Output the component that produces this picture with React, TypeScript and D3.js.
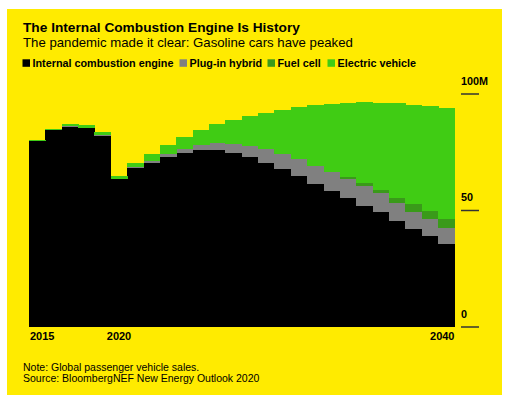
import React from "react";
import * as d3 from "d3";

// Global passenger vehicle sales, millions
const years = d3.range(2015, 2041);
const ice = [79.8, 84.5, 86.0, 85.3, 82.0, 63.4, 68.1, 70.5, 73.1, 74.6, 75.9, 76.0, 74.6, 72.9, 70.4, 67.7, 64.7, 61.2, 58.4, 55.4, 52.1, 49.5, 45.6, 41.9, 39.1, 35.6];
const phev = [0, 0, 0.2, 0.3, 0.4, 0.3, 0.5, 0.9, 1.3, 1.7, 2.3, 2.9, 3.8, 4.8, 5.9, 6.6, 7.4, 7.9, 8.3, 8.2, 8.5, 7.9, 7.6, 7.6, 7.3, 7.0];
const fuelCell = [0, 0, 0, 0, 0, 0, 0, 0, 0, 0, 0, 0, 0, 0, 0, 0, 0, 0, 0, 0.7, 1.1, 1.4, 2.1, 3.2, 3.4, 3.6];
const ev = [0.3, 0.3, 0.9, 1.1, 1.3, 1.0, 1.7, 3.0, 3.9, 5.2, 6.3, 8.1, 10.3, 12.7, 15.5, 19.0, 22.4, 26.1, 29.0, 31.8, 34.7, 37.5, 40.7, 42.7, 45.0, 47.8];

const seriesKeys = ["ice", "phev", "fuelCell", "ev"];
const seriesLabels = ["Internal combustion engine", "Plug-in hybrid", "Fuel cell", "Electric vehicle"];
const seriesColors = ["#000000", "#808080", "#3a9a1a", "#40cc14"];
const yTicks = [0, 50, 100];
const xTickYears = [2015, 2020, 2040];

const W = 510;
const H = 398;
const font = "'Liberation Sans', Arial, sans-serif";

export default function App() {
  const rows = years.map((y, i) => ({
    year: y,
    ice: ice[i],
    phev: phev[i],
    fuelCell: fuelCell[i],
    ev: ev[i],
  }));
  const stacked = d3.stack<any>().keys(seriesKeys)(rows);

  const x = d3
    .scaleBand<number>()
    .domain(years)
    .range([29, 454.5])
    .padding(0);
  const y = d3.scaleLinear().domain([0, 100]).range([327, 94]);

  const legendX = [22, 179, 267, 327];

  return (
    <svg
      width={W}
      height={H}
      style={{ position: "absolute", left: 0, top: 0 }}
      fontFamily={font}
    >
      <rect x={0} y={0} width={W} height={H} fill="#fff" />
      <rect x={7} y={9} width={495} height={386} fill="#ffeb00" />

      <text x={23} y={31.5} fontSize={13.7} fontWeight="bold" fill="#000">
        The Internal Combustion Engine Is History
      </text>
      <text x={23} y={47} fontSize={13.2} fill="#000">
        The pandemic made it clear: Gasoline cars have peaked
      </text>

      {seriesLabels.map((lab, i) => (
        <g key={lab} transform={`translate(${legendX[i]},59)`}>
          <rect x={0.5} y={0.3} width={7.5} height={7.5} fill={seriesColors[i]} />
          <text x={10.5} y={7.5} fontSize={10.8} fontWeight="bold" fill="#000">
            {lab}
          </text>
        </g>
      ))}

      <g shapeRendering="crispEdges">
        {stacked.map((s, si) => (
          <g key={s.key} fill={seriesColors[si]}>
            {s.map((d: any) =>
              d[1] - d[0] > 0 ? (
                <rect
                  key={d.data.year}
                  x={x(d.data.year)}
                  width={x.bandwidth() + 0.5}
                  y={y(d[1])}
                  height={y(d[0]) - y(d[1])}
                />
              ) : null
            )}
          </g>
        ))}
      </g>

      {yTicks.map((t) => (
        <g key={t}>
          <line x1={461} x2={479} y1={y(t)} y2={y(t)} stroke="#333" strokeWidth={1.5} />
          <text x={461} y={y(t) - 9.5} fontSize={10.8} fontWeight="bold" fill="#000">
            {t === 100 ? "100M" : t}
          </text>
        </g>
      ))}

      {xTickYears.map((yr, i) => {
        const anchor = i === 0 ? "start" : i === xTickYears.length - 1 ? "end" : "middle";
        const px =
          i === 0
            ? x(yr)! + 1
            : i === xTickYears.length - 1
            ? x(yr)! + x.bandwidth()
            : x(yr)! + x.bandwidth() / 2;
        return (
          <text key={yr} x={px} y={340} fontSize={11} fontWeight="bold" textAnchor={anchor} fill="#000">
            {yr}
          </text>
        );
      })}

      <text x={23} y={371} fontSize={10.5} fill="#000">
        Note: Global passenger vehicle sales.
      </text>
      <text x={23} y={382} fontSize={10.5} fill="#000">
        Source: BloombergNEF New Energy Outlook 2020
      </text>
    </svg>
  );
}
